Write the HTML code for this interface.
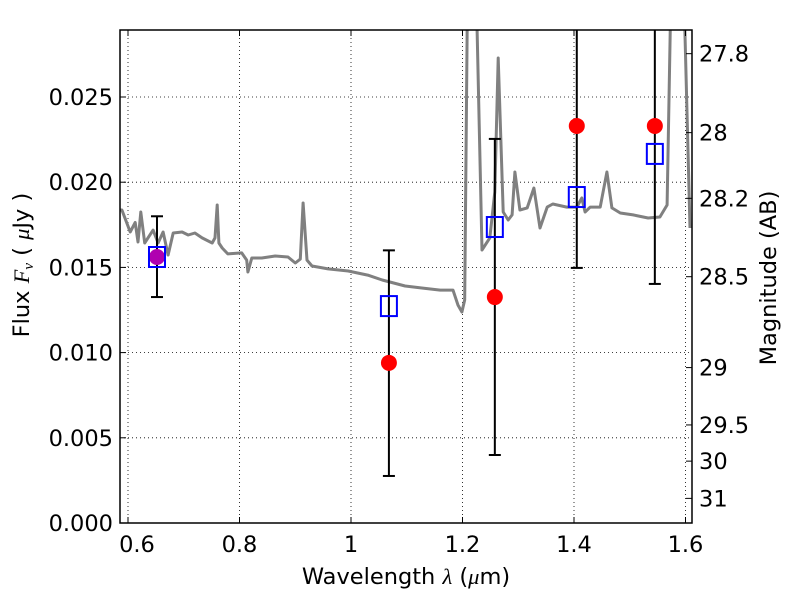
<!DOCTYPE html>
<html><head><meta charset="utf-8"><style>
body{margin:0;background:#fff;}
svg text{font-family:"DejaVu Sans","Liberation Sans",sans-serif;}
</style></head><body>
<svg id="chart" width="800" height="600" xmlns="http://www.w3.org/2000/svg"></svg>
<script>
const specWave=[0.586,0.589,0.604,0.613,0.618,0.623,0.630,0.645,0.654,0.663,0.672,0.681,0.697,0.708,0.720,0.733,0.751,0.756,0.760,0.763,0.769,0.779,0.804,0.813,0.815,0.822,0.840,0.864,0.887,0.900,0.909,0.914,0.921,0.930,0.959,0.995,1.030,1.056,1.097,1.127,1.160,1.183,1.192,1.199,1.204,1.210,1.222,1.235,1.249,1.258,1.264,1.273,1.282,1.289,1.294,1.303,1.316,1.328,1.339,1.352,1.362,1.387,1.405,1.414,1.420,1.429,1.447,1.459,1.468,1.483,1.506,1.533,1.554,1.567,1.576,1.594,1.608];
const specFlux=[0.01837,0.01837,0.01708,0.01764,0.01649,0.01825,0.01643,0.01719,0.01643,0.01708,0.01573,0.01702,0.01708,0.01690,0.01702,0.01673,0.01643,0.01673,0.01866,0.01643,0.01614,0.01579,0.01585,0.01543,0.01473,0.01555,0.01555,0.01567,0.01561,0.01526,0.01549,0.01878,0.01543,0.01508,0.01491,0.01479,0.01455,0.01426,0.01391,0.01379,0.01367,0.01367,0.01279,0.01238,0.01309,0.035,0.035,0.01602,0.01673,0.01942,0.02729,0.01825,0.01778,0.01808,0.02060,0.01837,0.01849,0.01966,0.01731,0.01854,0.01872,0.01854,0.01854,0.01907,0.01825,0.01854,0.01854,0.02060,0.01849,0.01819,0.01808,0.01790,0.01796,0.01866,0.035,0.035,0.01731];
const photWave=[0.652,1.068,1.258,1.405,1.545];
const obsFlux=[0.01561,0.0094,0.01326,0.0233,0.0233];
const obsColor=['#b000b0','red','red','red','red'];
const modelFlux=[0.01561,0.01273,0.01737,0.01913,0.02166];
const errLow=[0.01326,0.00276,0.00399,0.01497,0.01403];
const errHigh=[0.0180,0.0160,0.02254,0.035,0.035];
const xTicks=[0.6,0.8,1.0,1.2,1.4,1.6];
const xTickLabels=['0.6','0.8','1','1.2','1.4','1.6'];
const yTicks=[0,0.005,0.010,0.015,0.020,0.025];
const yTickLabels=['0.000','0.005','0.010','0.015','0.020','0.025'];
const magTicks=[27.8,28,28.2,28.5,29,29.5,30,31];
const magTickLabels=['27.8','28','28.2','28.5','29','29.5','30','31'];

const L=120,R=692,T=30,B=523;
const X=v=>351+(v-1)*557.5;
const Y=v=>523-v*17040;
const svg=document.getElementById('chart');
const NS='http://www.w3.org/2000/svg';
function mk(tag,attrs,parent){const e=document.createElementNS(NS,tag);for(const k in attrs)e.setAttribute(k,attrs[k]);(parent||svg).appendChild(e);return e;}
const defs=mk('defs',{});
const cp=mk('clipPath',{id:'clip'},defs);
mk('rect',{x:L,y:T,width:R-L,height:B-T},cp);

const grid=mk('g',{});


xTicks.forEach(v=>{mk('line',{x1:X(v),x2:X(v),y1:T,y2:B,stroke:'#000','stroke-width':0.8,'stroke-dasharray':'1,3'},grid);});
yTicks.forEach(v=>{mk('line',{x1:L,x2:R,y1:Y(v),y2:Y(v),stroke:'#000','stroke-width':0.8,'stroke-dasharray':'1,3'},grid);});

const plot=mk('g',{'clip-path':'url(#clip)'});
let d='';
specWave.forEach((w,i)=>{d+=(i?'L':'M')+X(w).toFixed(1)+','+Y(specFlux[i]).toFixed(1);});
const sp=mk('path',{d:d,fill:'none',stroke:'#808080','stroke-width':3,'stroke-linejoin':'round'},plot);



photWave.forEach((w,i)=>{
  const x=X(w);
  const g=mk('g',{},plot);
  
  
  mk('line',{x1:x,x2:x,y1:Y(errLow[i]),y2:Y(errHigh[i]),stroke:'#000','stroke-width':2},g);
  mk('line',{x1:x-6,x2:x+6,y1:Y(errLow[i]),y2:Y(errLow[i]),stroke:'#000','stroke-width':2},g);
  mk('line',{x1:x-6,x2:x+6,y1:Y(errHigh[i]),y2:Y(errHigh[i]),stroke:'#000','stroke-width':2},g);
  mk('circle',{cx:x,cy:Y(obsFlux[i]),r:8,fill:obsColor[i]},g);
  mk('rect',{x:x-8,y:Y(modelFlux[i])-10,width:16,height:20,fill:'none',stroke:'#0000ff','stroke-width':2},g);
});

mk('rect',{x:L,y:T,width:R-L,height:B-T,fill:'none',stroke:'#000','stroke-width':1.5});
const ax=mk('g',{});


const FS=22.5;
xTicks.forEach((v,i)=>{
  const x=X(v);
  mk('line',{x1:x,x2:x,y1:B,y2:B-6,stroke:'#000'},ax);
  mk('line',{x1:x,x2:x,y1:T,y2:T+6,stroke:'#000'},ax);
  const t=mk('text',{x:x+(i==0?9:0),y:552,'text-anchor':'middle','font-size':FS},ax);t.textContent=xTickLabels[i];
});
yTicks.forEach((v,i)=>{
  const y=Y(v);
  mk('line',{x1:L,x2:L+6,y1:y,y2:y,stroke:'#000'},ax);
  const t=mk('text',{x:113,y:y+8,'text-anchor':'end','font-size':FS},ax);t.textContent=yTickLabels[i];
});
magTicks.forEach((m,i)=>{
  const y=Y(Math.pow(10,(23.9-m)/2.5));
  mk('line',{x1:R,x2:R-6,y1:y,y2:y,stroke:'#000'},ax);
  const t=mk('text',{x:699,y:y+8,'font-size':FS},ax);t.textContent=magTickLabels[i];
});
const xt=mk('text',{x:406,y:584,'text-anchor':'middle','font-size':FS});

xt.innerHTML='Wavelength  <tspan font-style="italic" font-family="Liberation Serif">λ</tspan> (<tspan font-style="italic" font-family="Liberation Serif">μ</tspan>m)';
const yt=mk('text',{x:0,y:0,'text-anchor':'middle','font-size':FS,transform:'translate(29,265) rotate(-90)'});

yt.innerHTML='Flux  <tspan font-style="italic" font-family="Liberation Serif">F</tspan><tspan font-style="italic" font-family="Liberation Serif" font-size="15" dy="4">ν</tspan><tspan dy="-4">  (  </tspan><tspan font-style="italic" font-family="Liberation Serif">μ</tspan>Jy )';
const rt=mk('text',{x:0,y:0,'text-anchor':'middle','font-size':FS,transform:'translate(776,278) rotate(-90)'});

rt.textContent='Magnitude (AB)';
</script>
</body></html>
